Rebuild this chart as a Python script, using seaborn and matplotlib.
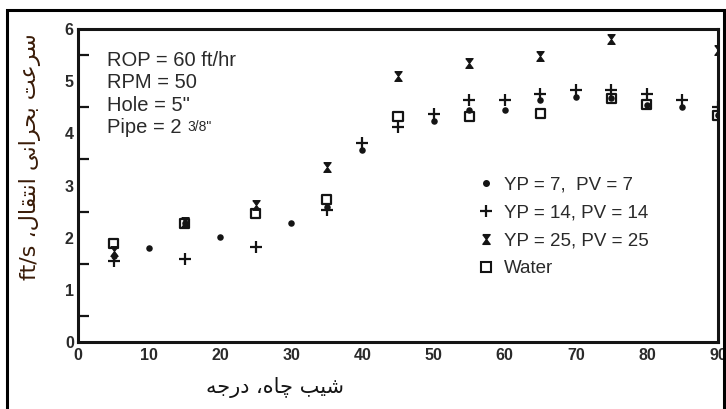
import matplotlib
matplotlib.use("Agg")
import matplotlib.pyplot as plt
import matplotlib.patches as mpatches
from matplotlib.lines import Line2D
from matplotlib.ticker import MultipleLocator
import seaborn as sns

# Critical transport velocity (ft/s) versus hole inclination (degrees)
yp7_angle = [5, 10, 15, 20, 30, 35, 40, 50, 55, 60, 65, 70, 75, 80, 85, 90]
yp7_vel = [1.65, 1.81, 2.28, 2.01, 2.29, 2.58, 3.68, 4.24, 4.44, 4.44, 4.64, 4.70, 4.67, 4.54, 4.50, 4.35]

yp14_angle = [5, 15, 25, 35, 40, 45, 50, 55, 60, 65, 70, 75, 80, 85, 90]
yp14_vel = [1.55, 1.60, 1.82, 2.53, 3.82, 4.12, 4.38, 4.64, 4.64, 4.76, 4.83, 4.84, 4.76, 4.64, 4.51]

yp25_angle = [5, 15, 25, 35, 45, 55, 65, 75, 90]
yp25_vel = [1.75, 2.30, 2.62, 3.36, 5.10, 5.34, 5.48, 5.80, 5.59]

water_angle = [5, 15, 25, 35, 45, 55, 65, 75, 80, 90]
water_vel = [1.88, 2.28, 2.47, 2.73, 4.32, 4.33, 4.38, 4.67, 4.55, 4.35]

legend_labels = ["YP = 7,  PV = 7", "YP = 14, PV = 14", "YP = 25, PV = 25", "Water"]
x_ticks = list(range(0, 100, 10))
y_ticks = list(range(0, 7))

# Persian labels written in presentation forms (visual order) so they render joined
xlabel_fa = "\uFEEA\uFE9F\uFEAD\uFEA9 \u060C\uFEE9\uFE8E\uFB7C \uFE90\uFEF4\uFEB7"   # شیب چاه، درجه
ylabel_fa = ("ft/s \u060C\uFEDD\uFE8E\uFED8\uFE98\uFEE7\uFE8D "
             "\uFEF0\uFEE7\uFE8D\uFEAE\uFEA4\uFE91 \uFE96\uFECB\uFEAE\uFEB3")        # سرعت بحرانی انتقال، ft/s

sns.set_theme(style="white")
plt.rcParams["font.family"] = ["Liberation Sans", "DejaVu Sans"]

W, H = 726, 409
fig = plt.figure(figsize=(W / 100, H / 100), dpi=100)
fig.patch.set_facecolor("white")
ax = fig.add_axes([78 / W, 1 - 342 / H, 640 / W, 313 / H])
ax.set_facecolor("white")

ink = "#141414"
hourglass = [(-0.75, 1), (0.75, 1), (0, 0), (0.75, -1), (-0.75, -1), (0, 0), (-0.75, 1)]

sns.scatterplot(x=water_angle, y=water_vel, ax=ax, marker="s", s=42,
                facecolors="none", edgecolor=ink, linewidth=1.6, zorder=3)
sns.scatterplot(x=yp7_angle, y=yp7_vel, ax=ax, marker="o", s=22,
                color=ink, edgecolor=ink, linewidth=0, zorder=4)
sns.scatterplot(x=yp14_angle, y=yp14_vel, ax=ax, marker="+", s=80,
                color=ink, linewidth=1.6, zorder=4)
sns.scatterplot(x=yp25_angle, y=yp25_vel, ax=ax, marker=hourglass, s=50,
                color=ink, edgecolor=ink, linewidth=0.8, zorder=4)

ax.set_xlim(0, 90)
ax.set_ylim(0, 6)
ax.set_xticks(x_ticks)
ax.set_yticks(y_ticks)
ax.yaxis.set_minor_locator(MultipleLocator(0.5))
ax.tick_params(axis="x", which="major", direction="in", length=9, width=1.6,
               colors=ink, labelsize=11.5, pad=4)
ax.tick_params(axis="y", which="major", direction="in", length=8, width=1.6,
               colors=ink, labelsize=11.5, pad=3)
ax.tick_params(axis="y", which="minor", direction="in", length=8, width=1.6, colors=ink, left=True)
for lab in ax.get_xticklabels() + ax.get_yticklabels():
    lab.set_fontweight("bold")
    lab.set_color("#2a2a2a")
for side in ["left", "right", "top", "bottom"]:
    ax.spines[side].set_color(ink)
    ax.spines[side].set_linewidth(2.2)
ax.set_xlabel("")
ax.set_ylabel("")

# Test conditions block
cond = ["ROP = 60 ft/hr", "RPM = 50", "Hole = 5\"", "Pipe = 2 "]
cond_texts = []
for i, line in enumerate(cond):
    cond_texts.append(fig.text(107 / W, 1 - (66 + 22.3 * i) / H, line, fontsize=14.5,
                               color="#2a2a2a", ha="left", va="baseline"))
ax.annotate("3/8\"", xy=(1, 0), xycoords=cond_texts[-1], xytext=(0, 4),
            textcoords="offset points", fontsize=10, color="#2a2a2a",
            ha="left", va="baseline")

handles = [
    Line2D([], [], linestyle="none", marker="o", markersize=4, color=ink),
    Line2D([], [], linestyle="none", marker="+", markersize=9, markeredgewidth=1.6, color=ink),
    Line2D([], [], linestyle="none", marker=hourglass, markersize=7, color=ink),
    Line2D([], [], linestyle="none", marker="s", markersize=6.5, markerfacecolor="none",
           markeredgecolor=ink, markeredgewidth=1.5),
]
leg = ax.legend(handles, legend_labels, loc="upper left",
                bbox_to_anchor=((478 - 78) / 640, (342 - 176) / 313),
                frameon=False, fontsize=13.5, handlelength=0.8, handletextpad=0.6,
                labelspacing=0.58, borderaxespad=0, borderpad=0)
for t in leg.get_texts():
    t.set_color("#2a2a2a")

fig.text(275 / W, 1 - 388 / H, xlabel_fa, fontsize=15, color=ink,
         ha="center", va="center", family=["DejaVu Sans"])
fig.text(30 / W, 1 - 157 / H, ylabel_fa, fontsize=16, color="#3a1c08",
         ha="center", va="center", rotation=90, family=["DejaVu Sans"])

# Outer frame
fig.patches.append(mpatches.Rectangle((7 / W, -0.05), 717 / W, 1.05 - 10 / H,
                                      transform=fig.transFigure, fill=False,
                                      edgecolor="black", linewidth=2.2))

fig.savefig("out.png", dpi=100)
